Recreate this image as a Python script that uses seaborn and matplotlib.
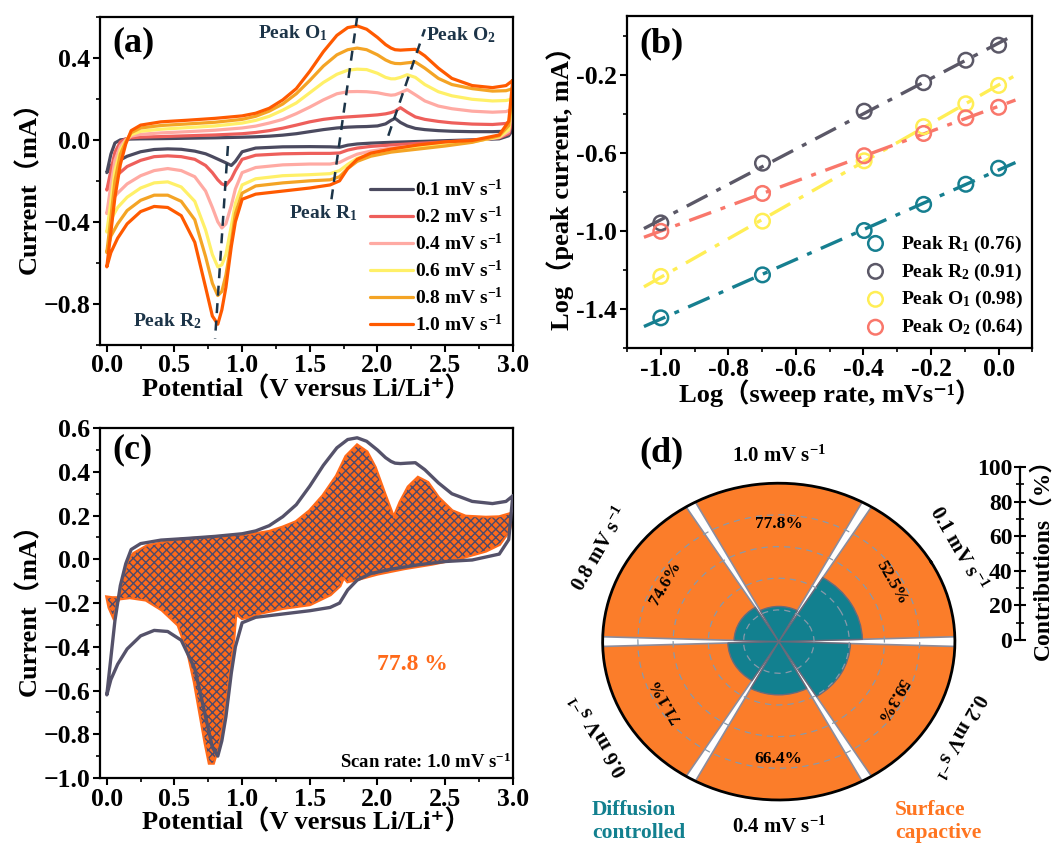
import numpy as np
import pandas as pd
import matplotlib
matplotlib.use('Agg')
import matplotlib.pyplot as plt
import seaborn as sns
from matplotlib.ticker import MultipleLocator, FormatStrFormatter

# %% data
RATES = ['0.1', '0.2', '0.4', '0.6', '0.8', '1.0']
CV_COLORS = ['#4b4a5f', '#ee5f5b', '#ffaaa3', '#fff068', '#f4a425', '#ff5a00']

# cathodic sweep 3.0 V -> 0 V
CATH_V = [3.0, 2.97, 2.9, 2.7, 2.5, 2.3, 2.1, 1.95, 1.85, 1.78, 1.72, 1.65, 1.5, 1.3, 1.1, 1.0,
          0.95, 0.92, 0.88, 0.85, 0.82, 0.78, 0.73, 0.65, 0.55, 0.45, 0.35, 0.25, 0.15, 0.08, 0.03, 0.0]
CATH_01 = [0.05, 0.02, 0.005, 0.0, -0.004, -0.008, -0.012, -0.016, -0.02, -0.026, -0.036, -0.034, -0.033, -0.034, -0.04, -0.058,
           -0.105, -0.125, -0.112, -0.103, -0.094, -0.082, -0.068, -0.055, -0.046, -0.044, -0.047, -0.058, -0.08, -0.105, -0.125, -0.16]
CATH_02 = [0.1, 0.03, 0.01, -0.002, -0.01, -0.017, -0.025, -0.032, -0.04, -0.05, -0.064, -0.066, -0.066, -0.068, -0.075, -0.095,
           -0.15, -0.19, -0.222, -0.215, -0.195, -0.16, -0.125, -0.095, -0.082, -0.078, -0.082, -0.1, -0.13, -0.17, -0.2, -0.245]
CATH_04 = [0.15, 0.04, 0.012, -0.006, -0.018, -0.028, -0.04, -0.055, -0.07, -0.09, -0.11, -0.118, -0.118, -0.122, -0.135, -0.16,
           -0.24, -0.32, -0.41, -0.43, -0.4, -0.33, -0.25, -0.18, -0.15, -0.14, -0.15, -0.175, -0.215, -0.26, -0.3, -0.36]
CATH_06 = [0.2, 0.05, 0.015, -0.01, -0.025, -0.038, -0.052, -0.07, -0.09, -0.12, -0.15, -0.165, -0.17, -0.175, -0.19, -0.22,
           -0.31, -0.42, -0.56, -0.61, -0.62, -0.56, -0.44, -0.3, -0.23, -0.205, -0.21, -0.235, -0.28, -0.33, -0.39, -0.45]
CATH_08 = [0.25, 0.07, 0.02, -0.012, -0.03, -0.045, -0.06, -0.08, -0.105, -0.14, -0.18, -0.195, -0.2, -0.21, -0.225, -0.26,
           -0.36, -0.5, -0.66, -0.74, -0.76, -0.7, -0.57, -0.39, -0.3, -0.27, -0.27, -0.295, -0.345, -0.41, -0.47, -0.55]
CATH_10 = [0.29, 0.09, 0.024, -0.003, -0.01, -0.025, -0.045, -0.065, -0.095, -0.14, -0.2, -0.22, -0.235, -0.25, -0.265, -0.29,
           -0.4, -0.52, -0.72, -0.83, -0.9, -0.86, -0.72, -0.5, -0.37, -0.33, -0.325, -0.35, -0.41, -0.48, -0.55, -0.62]

# anodic sweep 0 V -> 3.0 V
ANOD_V = [0.0, 0.03, 0.06, 0.1, 0.14, 0.18, 0.25, 0.4, 0.6, 0.8, 1.0, 1.1, 1.2, 1.3, 1.4, 1.5, 1.6, 1.7,
          1.78, 1.85, 1.92, 2.0, 2.06, 2.1, 2.13, 2.17, 2.22, 2.28, 2.35, 2.45, 2.55, 2.7, 2.85, 2.95, 3.0]
ANOD_01 = [-0.16, -0.07, -0.015, 0.0, 0.003, 0.004, 0.005, 0.006, 0.008, 0.01, 0.013, 0.015, 0.018, 0.023, 0.03, 0.04, 0.05, 0.058,
           0.062, 0.064, 0.065, 0.068, 0.078, 0.095, 0.105, 0.085, 0.068, 0.056, 0.05, 0.045, 0.042, 0.04, 0.04, 0.042, 0.05]
ANOD_02 = [-0.245, -0.15, -0.06, -0.01, 0.005, 0.01, 0.013, 0.016, 0.02, 0.024, 0.03, 0.036, 0.045, 0.057, 0.072, 0.088, 0.1, 0.108,
           0.112, 0.115, 0.118, 0.122, 0.127, 0.133, 0.14, 0.157, 0.135, 0.112, 0.1, 0.09, 0.083, 0.077, 0.075, 0.08, 0.1]
ANOD_04 = [-0.36, -0.22, -0.1, -0.03, 0.0, 0.018, 0.027, 0.034, 0.04, 0.047, 0.058, 0.067, 0.082, 0.1, 0.128, 0.16, 0.195, 0.225,
           0.235, 0.236, 0.235, 0.23, 0.222, 0.218, 0.22, 0.23, 0.245, 0.22, 0.19, 0.165, 0.152, 0.14, 0.135, 0.138, 0.15]
ANOD_06 = [-0.45, -0.3, -0.15, -0.05, -0.005, 0.025, 0.042, 0.052, 0.06, 0.068, 0.082, 0.095, 0.115, 0.145, 0.18, 0.23, 0.28, 0.32,
           0.34, 0.345, 0.343, 0.325, 0.305, 0.298, 0.298, 0.305, 0.318, 0.305, 0.27, 0.235, 0.215, 0.198, 0.19, 0.192, 0.2]
ANOD_08 = [-0.55, -0.38, -0.2, -0.07, -0.01, 0.035, 0.058, 0.07, 0.078, 0.086, 0.1, 0.115, 0.14, 0.175, 0.225, 0.29, 0.36, 0.415,
           0.44, 0.448, 0.44, 0.415, 0.39, 0.378, 0.373, 0.372, 0.376, 0.38, 0.35, 0.3, 0.27, 0.25, 0.238, 0.24, 0.25]
ANOD_10 = [-0.62, -0.45, -0.28, -0.12, -0.02, 0.045, 0.072, 0.088, 0.096, 0.105, 0.117, 0.13, 0.154, 0.195, 0.25, 0.335, 0.43, 0.51,
           0.548, 0.556, 0.54, 0.5, 0.465, 0.448, 0.44, 0.438, 0.44, 0.442, 0.41, 0.35, 0.3, 0.265, 0.255, 0.265, 0.29]

CATH_I = [CATH_01, CATH_02, CATH_04, CATH_06, CATH_08, CATH_10]
ANOD_I = [ANOD_01, ANOD_02, ANOD_04, ANOD_06, ANOD_08, ANOD_10]

# peak guide lines (V, I) pairs
GUIDE_O1 = ([1.66, 1.85], [-0.29, 0.6])
GUIDE_O2 = ([2.08, 2.35], [0.02, 0.54])
GUIDE_R2 = ([0.895, 0.80], [-0.03, -0.97])

# panel b
LOG_RATE = [-1.0, -0.699, -0.398, -0.222, -0.097, 0.0]
LOG_R1 = [-1.445, -1.225, -0.998, -0.864, -0.761, -0.679]
LOG_R2 = [-0.959, -0.653, -0.387, -0.241, -0.126, -0.049]
LOG_O1 = [-1.233, -0.950, -0.641, -0.466, -0.349, -0.255]
LOG_O2 = [-1.002, -0.808, -0.615, -0.501, -0.421, -0.367]
PEAK_NAMES = ['Peak R$_1$ (0.76)', 'Peak R$_2$ (0.91)', 'Peak O$_1$ (0.98)', 'Peak O$_2$ (0.64)']
PEAK_COLORS = ['#167f90', '#5b5867', '#ffee55', '#f9776b']

# panel c: capacitive region (lower edge 3 V -> 0 V, then upper edge 0 V -> 3 V)
CAP_LOW_V = [3.0, 2.97, 2.9, 2.8, 2.6, 2.4, 2.2, 2.0, 1.85, 1.78, 1.75, 1.72, 1.65, 1.5, 1.3, 1.13, 1.03, 1.0, 0.975, 0.955,
             0.935, 0.9, 0.86, 0.82, 0.785, 0.76, 0.73, 0.69, 0.65, 0.6, 0.53, 0.41, 0.29, 0.17, 0.1, 0.04, 0.005, 0.02, 0.045, 0.07]
CAP_LOW_I = [0.21, 0.13, 0.07, 0.04, 0.005, -0.02, -0.04, -0.065, -0.09, -0.1, -0.078, -0.12, -0.16, -0.205, -0.222, -0.245, -0.265, -0.268, -0.255, -0.21,
             -0.36, -0.53, -0.72, -0.86, -0.93, -0.93, -0.84, -0.7, -0.56, -0.42, -0.3, -0.23, -0.184, -0.173, -0.178, -0.178, -0.175, -0.22, -0.255, -0.2]
CAP_UP_V = [0.1, 0.13, 0.17, 0.2, 0.3, 0.55, 0.8, 1.05, 1.2, 1.3, 1.4, 1.5, 1.6, 1.7, 1.77, 1.85, 1.92, 1.98, 2.05, 2.12,
            2.17, 2.23, 2.3, 2.37, 2.45, 2.55, 2.65, 2.8, 2.9, 3.0]
CAP_UP_I = [-0.165, -0.07, 0.0, 0.025, 0.06, 0.09, 0.1, 0.11, 0.125, 0.145, 0.17, 0.22, 0.29, 0.38, 0.47, 0.52, 0.49, 0.42, 0.3, 0.185,
            0.26, 0.33, 0.372, 0.35, 0.28, 0.22, 0.195, 0.19, 0.192, 0.21]

# panel d
SURFACE = [52.5, 59.3, 66.4, 71.1, 74.6, 77.8]
SURF_COLOR = '#fb7d2a'
DIFF_COLOR = '#12808f'

# %% style
sns.set_theme(style='ticks')
plt.rcParams['font.family'] = ['Liberation Serif', 'DejaVu Serif', 'Noto Sans CJK SC']
plt.rcParams['font.weight'] = 'bold'
plt.rcParams['axes.labelweight'] = 'bold'
plt.rcParams['mathtext.fontset'] = 'custom'
plt.rcParams['mathtext.rm'] = 'Liberation Serif:bold'
plt.rcParams['mathtext.it'] = 'Liberation Serif:italic:bold'
plt.rcParams['mathtext.bf'] = 'Liberation Serif:bold'
for k in ['text.color', 'axes.labelcolor', 'xtick.color', 'ytick.color', 'axes.edgecolor']:
    plt.rcParams[k] = 'black'
plt.rcParams['axes.linewidth'] = 1.6
plt.rcParams['hatch.linewidth'] = 1.0
plt.rcParams['hatch.color'] = '#4e4a6a'

LAB = 19
TICK = 18.5
NAVY = '#1c3448'


def style_ticks(ax):
    ax.tick_params(which='major', direction='out', length=5, width=1.5, labelsize=TICK, pad=2)
    ax.tick_params(which='minor', direction='out', length=3, width=1.2)


fig = plt.figure(figsize=(10.61, 8.47), dpi=100)

# %% (a)
ax = fig.add_axes([0.0943, 0.593, 0.389, 0.387])
rows = []
for r, ci, ai in zip(RATES, CATH_I, ANOD_I):
    lab = r + ' mV s$^{-1}$'
    for v, i in zip(CATH_V + ANOD_V, ci + ai):
        rows.append((lab, v, i))
df_a = pd.DataFrame(rows, columns=['rate', 'V', 'I'])
sns.lineplot(data=df_a, x='V', y='I', hue='rate', palette=CV_COLORS, sort=False,
             estimator=None, lw=2.3, ax=ax)
for gx, gy in [GUIDE_O1, GUIDE_O2, GUIDE_R2]:
    ax.plot(gx, gy, color=NAVY, lw=1.8, ls=(0, (4, 3)))
ax.text(1.63, 0.52, 'Peak O$_1$', color=NAVY, fontsize=14, ha='right', va='center')
ax.text(2.36, 0.51, 'Peak O$_2$', color=NAVY, fontsize=14, ha='left', va='center')
ax.text(1.6, -0.36, 'Peak R$_1$', color=NAVY, fontsize=14, ha='center', va='center')
ax.text(0.45, -0.885, 'Peak R$_2$', color=NAVY, fontsize=14, ha='center', va='center')
ax.set_xlim(-0.05, 3.0)
ax.set_ylim(-1.0, 0.6)
ax.xaxis.set_major_locator(MultipleLocator(0.5))
ax.xaxis.set_minor_locator(MultipleLocator(0.25))
ax.set_yticks([-0.8, -0.4, 0.0, 0.4])
ax.yaxis.set_minor_locator(MultipleLocator(0.2))
style_ticks(ax)
ax.set_xlabel('Potential（V versus Li/Li⁺）', fontsize=LAB, labelpad=-1)
ax.set_ylabel('Current（mA）', fontsize=LAB, labelpad=2)
ax.legend(loc='lower right', frameon=False, fontsize=14, handlelength=2.2,
          handletextpad=0.1, labelspacing=0.3, borderaxespad=0.1)
ax.text(0.03, 0.97, '(a)', transform=ax.transAxes, fontsize=26, va='top', ha='left')

# %% (b)
ax = fig.add_axes([0.591, 0.589, 0.382, 0.392])
xfit = np.array([min(LOG_RATE) - 0.05, max(LOG_RATE) + 0.05])
for ys, name, c in zip([LOG_R1, LOG_R2, LOG_O1, LOG_O2], PEAK_NAMES, PEAK_COLORS):
    k, b = np.polyfit(LOG_RATE, ys, 1)
    ax.plot(xfit, k * xfit + b, color=c, lw=2.4, ls=(0, (7, 3, 1.5, 3)))
    ax.scatter(LOG_RATE, ys, s=110, facecolors='none', edgecolors=c, linewidths=1.8, label=name, zorder=3)
ax.set_xlim(-1.1, 0.1)
ax.set_ylim(-1.6, 0.1)
ax.xaxis.set_major_locator(MultipleLocator(0.2))
ax.xaxis.set_minor_locator(MultipleLocator(0.1))
ax.set_yticks([-1.4, -1.0, -0.6, -0.2])
ax.yaxis.set_minor_locator(MultipleLocator(0.2))
ax.xaxis.set_major_formatter(FormatStrFormatter('%.1f'))
ax.yaxis.set_major_formatter(FormatStrFormatter('%.1f'))
style_ticks(ax)
ax.set_xlabel('Log（sweep rate, mVs⁻¹）', fontsize=LAB, labelpad=-1)
ax.set_ylabel('Log（peak current, mA）', fontsize=LAB, labelpad=2)
ax.legend(loc='lower right', frameon=False, fontsize=14, handletextpad=0.3,
          labelspacing=0.35, borderaxespad=0.1)
ax.text(0.03, 0.965, '(b)', transform=ax.transAxes, fontsize=26, va='top', ha='left')

# %% (c)
ax = fig.add_axes([0.0943, 0.0815, 0.389, 0.413])
cap_v = CAP_LOW_V + CAP_UP_V
cap_i = CAP_LOW_I + CAP_UP_I
ax.fill(cap_v, cap_i, facecolor='#ff6a1a', edgecolor='#ff6a1a', lw=3, zorder=1)
ax.fill(cap_v, cap_i, facecolor='none', edgecolor='#4e4a6a', hatch='xxxx', lw=0, zorder=2)
df_c = pd.DataFrame({'V': CATH_V + ANOD_V, 'I': CATH_10 + ANOD_10})
sns.lineplot(data=df_c, x='V', y='I', sort=False, estimator=None, color='#55526a', lw=2.4, ax=ax, zorder=3)
ax.text(2.26, -0.48, '77.8 %', color='#ff6a1a', fontsize=17, ha='center', va='center')
ax.text(0.995, 0.045, 'Scan rate: 1.0 mV s$^{-1}$', transform=ax.transAxes, fontsize=13.5,
        ha='right', va='center')
ax.set_xlim(-0.05, 3.0)
ax.set_ylim(-1.0, 0.6)
ax.xaxis.set_major_locator(MultipleLocator(0.5))
ax.xaxis.set_minor_locator(MultipleLocator(0.25))
ax.yaxis.set_major_locator(MultipleLocator(0.2))
ax.yaxis.set_minor_locator(MultipleLocator(0.1))
style_ticks(ax)
ax.set_xlabel('Potential（V versus Li/Li⁺）', fontsize=LAB, labelpad=-1)
ax.set_ylabel('Current（mA）', fontsize=LAB, labelpad=2)
ax.text(0.03, 0.985, '(c)', transform=ax.transAxes, fontsize=26, va='top', ha='left')

# %% (d)
ax = fig.add_axes([0.568, 0.0555, 0.332, 0.374], projection='polar')
ax.set_aspect('auto')
ax.set_theta_offset(np.radians(30))
ax.set_theta_direction(-1)
theta = np.radians(np.arange(len(SURFACE)) * 60.0)
surf = np.array(SURFACE)
ax.bar(theta, np.full(len(surf), 100.0), width=np.radians(56.5), color=SURF_COLOR,
       edgecolor='#8c8c9c', lw=1.2, zorder=1)
ax.bar(theta, 100.0 - surf, width=np.radians(56.5), color=DIFF_COLOR,
       edgecolor='#6a6a7a', lw=1.0, zorder=1)
ax.set_ylim(0, 100)
ax.set_yticks([20, 40, 60, 80])
ax.set_yticklabels([])
ax.set_xticks([])
ax.yaxis.grid(True, ls=(0, (5, 4)), color='#8899aa', lw=0.9)
ax.xaxis.grid(False)
ax.set_axisbelow(False)
ax.spines['polar'].set_linewidth(2)
for k, (t, s, r) in enumerate(zip(theta, SURFACE, RATES)):
    a = 30 - 60 * k
    rot = (a - 90) % 360
    if rot == 180:
        rot = 0
    ax.text(t, 74, f'{s}%', rotation=rot, rotation_mode='anchor', ha='center', va='center', fontsize=12.5)
    ax.text(t, 117, r + ' mV s$^{-1}$', rotation=rot, rotation_mode='anchor', ha='center',
            va='center', fontsize=15, clip_on=False)
fig.text(0.603, 0.485, '(d)', fontsize=26, va='top', ha='left')
fig.text(0.558, 0.03, 'Diffusion\ncontrolled', color=DIFF_COLOR, fontsize=15.5, ha='left',
         va='center', linespacing=1.25)
fig.text(0.8435, 0.03, 'Surface\ncapactive', color='#ff7520', fontsize=15.5, ha='left',
         va='center', linespacing=1.25)

# contribution scale
ax = fig.add_axes([0.9613, 0.2444, 0.0001, 0.2043])
ax.set_ylim(0, 100)
ax.yaxis.set_major_locator(MultipleLocator(20))
ax.yaxis.set_minor_locator(MultipleLocator(10))
for s in ['top', 'right', 'bottom']:
    ax.spines[s].set_visible(False)
ax.spines['left'].set_linewidth(1.6)
ax.set_xticks([])
ax.tick_params(axis='y', which='major', direction='inout', length=9, width=1.5, labelsize=17, pad=1)
ax.tick_params(axis='y', which='minor', direction='inout', length=6, width=1.2)
ax.yaxis.set_label_position('right')
ax.set_ylabel('Contributions（%）', fontsize=17, labelpad=8)

fig.savefig('out.png', dpi=100)
